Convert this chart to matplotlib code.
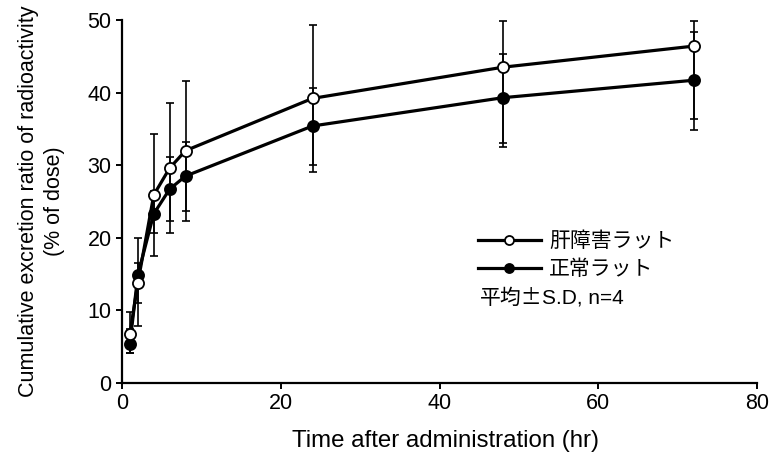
import matplotlib
matplotlib.use("Agg")
import matplotlib.pyplot as plt
import numpy as np

plt.rcParams['font.family'] = ['Liberation Sans', 'Noto Sans CJK JP', 'DejaVu Sans']

time_hr = [1, 2, 4, 6, 8, 24, 48, 72]
liver_mean = [6.8, 13.8, 25.9, 29.6, 32.0, 39.2, 43.5, 46.4]
liver_upper = [9.8, 16.5, 34.3, 38.6, 41.6, 49.3, 49.8, 49.8]
liver_lower = [4.1, 7.9, 17.5, 20.7, 22.3, 29.1, 33.1, 36.3]
normal_mean = [5.4, 14.9, 23.3, 26.7, 28.5, 35.4, 39.3, 41.7]
normal_upper = [7.5, 20.0, 26.5, 31.1, 33.2, 40.6, 45.3, 48.4]
normal_lower = [4.1, 11.0, 20.7, 22.3, 23.7, 30.0, 32.5, 34.8]
labels = ['肝障害ラット', '正常ラット']
note_jp = '平均±'
note_en = 'S.D, n=4'

fig = plt.figure(figsize=(7.7, 4.59), dpi=100)
ax = fig.add_axes([122/770, 1-383/459, 635/770, 363/459])

def yerr(mean, low, up):
    m = np.array(mean); return [m - np.array(low), np.array(up) - m]

ax.errorbar(time_hr, normal_mean, yerr=yerr(normal_mean, normal_lower, normal_upper),
            fmt='none', ecolor='black', elinewidth=1.2, capsize=3, capthick=1.2, zorder=2)
ax.errorbar(time_hr, liver_mean, yerr=yerr(liver_mean, liver_lower, liver_upper),
            fmt='none', ecolor='black', elinewidth=1.2, capsize=3, capthick=1.2, zorder=2)
l1, = ax.plot(time_hr, liver_mean, '-o', color='black', lw=2.3, ms=8,
              mfc='white', mec='black', mew=1.3, zorder=4, label=labels[0])
l2, = ax.plot(time_hr, normal_mean, '-o', color='black', lw=2.3, ms=8,
              mfc='black', mec='black', mew=1.3, zorder=3, label=labels[1])

ax.set_xlim(0, 80)
ax.set_ylim(0, 50)
ax.set_xticks([0, 20, 40, 60, 80])
ax.set_yticks([0, 10, 20, 30, 40, 50])
for s in ['top', 'right']:
    ax.spines[s].set_visible(False)
for s in ['left', 'bottom']:
    ax.spines[s].set_linewidth(1.6)
ax.tick_params(direction='out', length=4.5, width=1.4, labelsize=15.5, pad=3)
ax.set_xlabel('Time after administration (hr)', fontsize=17.3)
ax.xaxis.set_label_coords(0.509, -0.13)
ax.set_ylabel('Cumulative excretion ratio of radioactivity\n(% of dose)', fontsize=15.5,
              linespacing=1.3)
ax.yaxis.set_label_coords(-0.09, 0.5)

leg = ax.legend(handles=[l1, l2], loc='center left', bbox_to_anchor=(0.561, 0.352),
                frameon=False, handlelength=3.0, handletextpad=0.4, borderpad=0,
                borderaxespad=0, labelspacing=0.4,
                prop={'family': ['Liberation Sans', 'Noto Sans CJK JP'], 'size': 15})
for h in leg.legend_handles:
    h.set_markersize(6.5)
t1 = ax.text(0.563, 0.235, note_jp, transform=ax.transAxes, fontsize=15,
             family=['Noto Sans CJK JP', 'DejaVu Sans'], va='center', ha='left')
ax.annotate(note_en, xy=(1, 0.5), xycoords=t1, fontsize=15,
            family=['Liberation Sans', 'DejaVu Sans'], va='center', ha='left')

fig.savefig('out.png', dpi=100)
